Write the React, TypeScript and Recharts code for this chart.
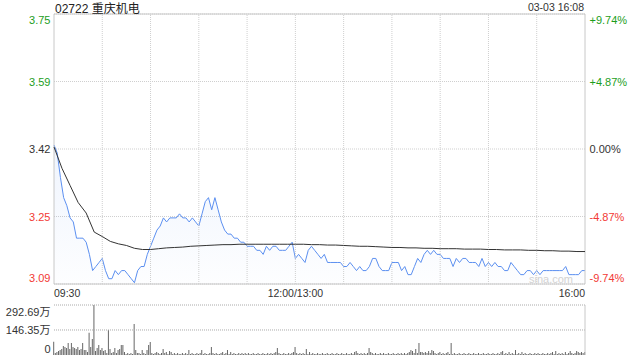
import React from "react";
import {
  Area,
  Bar,
  BarChart,
  CartesianGrid,
  ComposedChart,
  Line,
  ReferenceArea,
  ReferenceLine,
  XAxis,
  YAxis,
} from "recharts";

const TITLE = "02722 重庆机电";
const STAMP = "03-03 16:08";
const WATERMARK = "sina.com";
const PREV_CLOSE = 3.42;
const LIMIT_PCT = 9.74;
const SESSION_MINUTES = 330;
const TIME_TICKS = [0, 150, 330];
const TIME_LABELS = ["09:30", "12:00/13:00", "16:00"];
const GRID_MINUTES = [30, 60, 90, 120, 150, 180, 210, 240, 270, 300];

// last price, one point every 2 minutes from 09:30
const PRICE = [
  3.43, 3.41, 3.35, 3.3, 3.28, 3.25, 3.24, 3.2, 3.2, 3.2, 3.19, 3.16, 3.12, 3.13, 3.14,
  3.15, 3.12, 3.1, 3.1, 3.12, 3.11, 3.12, 3.12, 3.11, 3.1, 3.09, 3.12, 3.13, 3.13, 3.16,
  3.18, 3.2, 3.22, 3.23, 3.25, 3.24, 3.25, 3.25, 3.25, 3.26, 3.25, 3.25, 3.24, 3.25, 3.24,
  3.23, 3.26, 3.29, 3.3, 3.27, 3.3, 3.27, 3.24, 3.22, 3.21, 3.21, 3.2, 3.2, 3.19, 3.19,
  3.18, 3.18, 3.18, 3.17, 3.17, 3.16, 3.18, 3.17, 3.18, 3.18, 3.17, 3.17, 3.17, 3.18, 3.19,
  3.15, 3.16, 3.15, 3.14, 3.17, 3.18, 3.17, 3.16, 3.15, 3.16, 3.14, 3.14, 3.14, 3.14, 3.14,
  3.13, 3.13, 3.14, 3.13, 3.12, 3.13, 3.12, 3.12, 3.13, 3.15, 3.15, 3.13, 3.12, 3.12, 3.12,
  3.14, 3.14, 3.14, 3.12, 3.13, 3.11, 3.11, 3.13, 3.15, 3.14, 3.16, 3.17, 3.16, 3.17, 3.16,
  3.16, 3.15, 3.15, 3.15, 3.13, 3.15, 3.14, 3.15, 3.15, 3.14, 3.14, 3.14, 3.13, 3.15, 3.13,
  3.14, 3.13, 3.14, 3.13, 3.13, 3.12, 3.12, 3.14, 3.13, 3.12, 3.11, 3.11, 3.12, 3.12, 3.11,
  3.12, 3.11, 3.12, 3.12, 3.12, 3.12, 3.12, 3.12, 3.12, 3.13, 3.11, 3.11, 3.11, 3.11, 3.12, 3.12,
];

// average price, one point every 5 minutes
const AVG = [
  3.425, 3.372, 3.33, 3.288, 3.262, 3.215, 3.204, 3.192, 3.186, 3.182,
  3.175, 3.172, 3.172, 3.174, 3.176, 3.177, 3.178, 3.18, 3.181, 3.182,
  3.183, 3.184, 3.184, 3.185, 3.185, 3.185, 3.185, 3.185, 3.185, 3.185,
  3.185, 3.185, 3.184, 3.184, 3.183, 3.183, 3.182, 3.181, 3.18, 3.18,
  3.179, 3.178, 3.177, 3.177, 3.176, 3.176, 3.175, 3.175, 3.174, 3.174,
  3.174, 3.173, 3.173, 3.173, 3.172, 3.172, 3.171, 3.171, 3.171, 3.17,
  3.17, 3.169, 3.169, 3.168, 3.168, 3.167, 3.167,
];

// volume per minute, in 万 shares
const VOLUME = [
  78, 12, 18, 23, 29, 35, 53, 47, 41, 70, 35, 70, 47, 41, 35, 47, 29, 35, 70, 29, 29, 18, 130, 47, 94, 292.69, 23, 41, 59, 29,
  41, 23, 29, 12, 146, 35, 12, 18, 41, 12, 29, 35, 59, 59, 18, 6, 12, 6, 12, 6, 181, 29, 12, 12, 6, 29, 12, 6, 29, 59,
  76, 12, 6, 12, 18, 12, 6, 12, 35, 12, 18, 6, 23, 18, 6, 12, 6, 12, 6, 6, 12, 6, 12, 6, 29, 6, 12, 6, 6, 12,
  6, 12, 29, 6, 12, 6, 6, 12, 47, 12, 6, 12, 6, 6, 12, 18, 6, 12, 29, 6, 18, 6, 12, 6, 6, 12, 6, 12, 6, 12,
  6, 12, 6, 6, 12, 6, 6, 12, 6, 6, 12, 6, 6, 12, 6, 12, 6, 12, 18, 41, 12, 6, 6, 12, 6, 6, 12, 6, 12, 18,
  47, 12, 6, 12, 6, 12, 6, 35, 6, 18, 6, 12, 6, 6, 12, 6, 6, 12, 6, 6, 12, 6, 6, 12, 6, 6, 12, 6, 6, 12,
  6, 6, 12, 6, 6, 12, 6, 18, 23, 12, 6, 12, 6, 12, 6, 12, 41, 18, 12, 6, 12, 6, 6, 12, 6, 12, 6, 6, 12, 6,
  6, 12, 6, 6, 12, 6, 12, 6, 12, 6, 12, 18, 29, 23, 12, 35, 12, 70, 18, 18, 12, 18, 12, 23, 12, 29, 23, 12, 6, 12,
  18, 6, 12, 6, 12, 18, 6, 70, 6, 12, 6, 6, 12, 6, 6, 12, 6, 6, 12, 6, 6, 12, 6, 6, 12, 6, 6, 12, 6, 6,
  12, 6, 6, 12, 6, 6, 12, 6, 18, 23, 6, 12, 6, 18, 6, 12, 6, 29, 6, 12, 6, 18, 6, 12, 6, 6, 12, 6, 6, 12,
  6, 12, 6, 6, 12, 6, 6, 12, 6, 12, 18, 6, 23, 6, 12, 6, 12, 6, 18, 6, 12, 23, 12, 6, 12, 23, 18, 12, 18, 12, 18,
];
const VOL_TICKS = [0, 146.35, 292.69];

const FONT = "'Liberation Sans', Arial, 'Noto Sans CJK SC', sans-serif";
const UP = "#1c9e1c";
const DOWN = "#f23a35";
const FLAT = "#333";
const BLUE = "#5b8ff0";

const lo = PREV_CLOSE * (1 - LIMIT_PCT / 100);
const hi = PREV_CLOSE * (1 + LIMIT_PCT / 100);
const priceTicks = [-2, -1, 0, 1, 2].map((k) => PREV_CLOSE * (1 + (k * LIMIT_PCT) / 200));

const priceData = PRICE.map((p, i) => ({ t: i * 2, p }));
const avgData = AVG.map((a, i) => ({ t: i * 5, a }));
const volData = VOLUME.map((v, i) => ({ t: i, v }));

const near = (a: number, b: number) => Math.abs(a - b) < 1e-6;

function priceColor(v: number) {
  if (v > PREV_CLOSE + 1e-6) return UP;
  if (v < PREV_CLOSE - 1e-6) return DOWN;
  return FLAT;
}

function edgeDy(v: number, min: number, max: number) {
  if (near(v, max)) return 10;
  if (near(v, min)) return -2.5;
  return 4;
}

function LeftTick(props: any) {
  const { x, y, payload } = props;
  const v = payload.value as number;
  return (
    <text x={x - 3.5} y={y} dy={edgeDy(v, lo, hi)} textAnchor="end" fontSize={11} fill={priceColor(v)} fontFamily={FONT}>
      {v.toFixed(2)}
    </text>
  );
}

function RightTick(props: any) {
  const { x, y, payload } = props;
  const v = payload.value as number;
  const pct = (v / PREV_CLOSE - 1) * 100;
  const label = (pct > 1e-6 ? "+" : "") + pct.toFixed(2) + "%";
  return (
    <text x={x + 4.5} y={y} dy={edgeDy(v, lo, hi)} textAnchor="start" fontSize={11} fill={priceColor(v)} fontFamily={FONT}>
      {label}
    </text>
  );
}

function TimeTick(props: any) {
  const { x, y, payload } = props;
  const v = payload.value as number;
  const idx = TIME_TICKS.indexOf(v);
  const anchor = v === 0 ? "start" : v === SESSION_MINUTES ? "end" : "middle";
  return (
    <text x={x} y={y} dy={12.5} textAnchor={anchor} fontSize={10.5} fill="#333" fontFamily={FONT}>
      {TIME_LABELS[idx]}
    </text>
  );
}

function VolTick(props: any) {
  const { x, y, payload } = props;
  const v = payload.value as number;
  const max = VOL_TICKS[VOL_TICKS.length - 1];
  const dy = near(v, max) ? 11 : v === 0 ? -2 : 4;
  return (
    <text x={x - 3.5} y={y} dy={dy} textAnchor="end" fontSize={11} fill="#333" fontFamily={FONT}>
      {v === 0 ? "0" : v.toFixed(2) + "万"}
    </text>
  );
}

export default function App() {
  return (
    <div style={{ position: "absolute", left: 0, top: 0, width: 640, height: 360, background: "#fff", fontFamily: FONT }}>
      <div style={{ position: "absolute", left: 0, top: 0 }}>
        <ComposedChart width={640} height={300} data={priceData} margin={{ top: 14, right: 0, bottom: 0, left: 0 }}>
          <defs>
            <linearGradient id="priceFill" x1="0" y1="0" x2="0" y2="1">
              <stop offset="0%" stopColor={BLUE} stopOpacity={0.16} />
              <stop offset="100%" stopColor={BLUE} stopOpacity={0.02} />
            </linearGradient>
          </defs>
          <CartesianGrid vertical={false} stroke="#cfcfcf" strokeDasharray="1 1" yAxisId="L" />
          <XAxis
            type="number"
            dataKey="t"
            domain={[0, SESSION_MINUTES]}
            ticks={TIME_TICKS}
            interval={0}
            tickSize={0}
            tickMargin={0}
            axisLine={false}
            height={16}
            tick={TimeTick}
          />
          <YAxis
            yAxisId="L"
            domain={[lo, hi]}
            ticks={priceTicks}
            interval={0}
            allowDataOverflow
            width={54}
            tickSize={0}
            tickMargin={0}
            axisLine={false}
            tick={LeftTick}
          />
          <YAxis
            yAxisId="R"
            orientation="right"
            domain={[lo, hi]}
            ticks={priceTicks}
            interval={0}
            allowDataOverflow
            width={55}
            tickSize={0}
            tickMargin={0}
            axisLine={false}
            tick={RightTick}
          />
          {GRID_MINUTES.map((m) => (
            <ReferenceLine key={m} x={m} yAxisId="L" stroke="#cfcfcf" strokeDasharray="1 1" />
          ))}
          <Area
            yAxisId="L"
            type="linear"
            dataKey="p"
            stroke={BLUE}
            strokeWidth={1}
            fill="url(#priceFill)"
            dot={false}
            activeDot={false}
            isAnimationActive={false}
          />
          <Line
            yAxisId="L"
            data={avgData}
            type="linear"
            dataKey="a"
            stroke="#333"
            strokeWidth={1}
            dot={false}
            activeDot={false}
            isAnimationActive={false}
          />
          <ReferenceArea yAxisId="L" x1={0} x2={SESSION_MINUTES} y1={lo} y2={hi} fill="none" fillOpacity={0} stroke="#c8c8c8" strokeOpacity={1} />
        </ComposedChart>
      </div>
      <div style={{ position: "absolute", left: 0, top: 300 }}>
        <BarChart width={640} height={60} data={volData} margin={{ top: 5, right: 55, bottom: 5, left: 0 }}>
          <XAxis type="number" dataKey="t" domain={[0, SESSION_MINUTES]} hide />
          <YAxis
            domain={[0, VOL_TICKS[VOL_TICKS.length - 1]]}
            ticks={VOL_TICKS}
            interval={0}
            width={54}
            tickSize={0}
            tickMargin={0}
            axisLine={false}
            tick={VolTick}
          />
          {VOL_TICKS.slice(1).map((v) => (
            <ReferenceLine key={v} y={v} stroke="#aaa" strokeDasharray="1 1" />
          ))}
          <ReferenceLine x={SESSION_MINUTES} stroke="#c8c8c8" />
          <Bar dataKey="v" fill="#666" barSize={1} isAnimationActive={false} />
        </BarChart>
      </div>
      <svg width={640} height={360} style={{ position: "absolute", left: 0, top: 0, pointerEvents: "none" }}>
        <text x={55} y={12.5} fontSize={12} fill="#222" fontFamily={FONT}>
          {TITLE}
        </text>
        <text x={584} y={10.5} fontSize={10.5} fill="#333" textAnchor="end" fontFamily={FONT}>
          {STAMP}
        </text>
        <text x={573} y={282.5} fontSize={11} fill="#d2d2d2" textAnchor="end" fontFamily={FONT}>
          {WATERMARK}
        </text>
      </svg>
    </div>
  );
}
